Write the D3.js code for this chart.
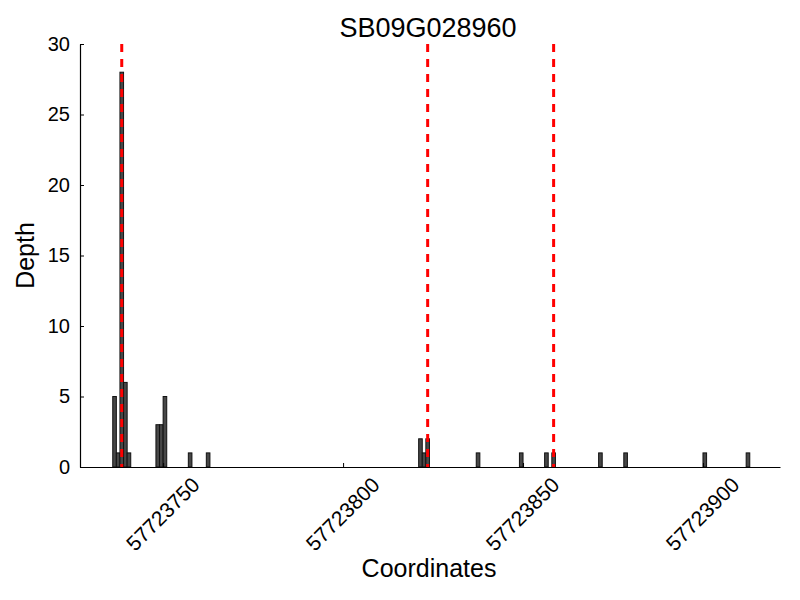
<!DOCTYPE html>
<html>
<head>
<meta charset="utf-8">
<script src="https://cdn.jsdelivr.net/npm/d3@7"></script>
<style>
  body { margin: 0; background: #fff; }
  svg { display: block; font-family: "Liberation Sans", Arial, Helvetica, sans-serif; }
</style>
</head>
<body>
<svg id="chart" width="800" height="600"></svg>
<script>
// ---- data ----
const title = "SB09G028960";
const xLabel = "Coordinates";
const yLabel = "Depth";
const positions = [57723736, 57723737, 57723738, 57723739, 57723740, 57723748, 57723749, 57723750,
                   57723757, 57723762, 57723821, 57723822, 57723823, 57723837, 57723849, 57723856,
                   57723858, 57723871, 57723878, 57723900, 57723912];
const depths = [5, 1, 28, 6, 1, 3, 3, 5, 1, 1, 2, 1, 2, 1, 1, 1, 1, 1, 1, 1, 1];
const markers = [57723738.5, 57723823.5, 57723858.5];
const xTicks = [57723750, 57723800, 57723850, 57723900];
const yTicks = [0, 5, 10, 15, 20, 25, 30];
const xDomain = [57723726.9, 57723921.4];
const yDomain = [0, 30];

// ---- layout ----
const plotL = 80, plotR = 780, plotT = 44, plotB = 467;
const svg = d3.select("#chart");

const x = d3.scaleLinear().domain(xDomain).range([plotL, plotR]);
const y = d3.scaleLinear().domain(yDomain).range([plotB, plotT]);

// bars
svg.append("g").selectAll("rect")
  .data(positions.map((p, i) => ({p, d: depths[i]})))
  .join("rect")
  .attr("x", d => x(d.p))
  .attr("width", d => x(d.p + 1) - x(d.p))
  .attr("y", d => y(d.d))
  .attr("height", d => y(0) - y(d.d))
  .attr("fill", "#474747")
  .attr("stroke", "#111111")
  .attr("stroke-width", 1);

// red dashed markers
svg.append("g").selectAll("line")
  .data(markers)
  .join("line")
  .attr("x1", d => x(d)).attr("x2", d => x(d))
  .attr("y1", plotT).attr("y2", plotB)
  .attr("stroke", "#ff0000")
  .attr("stroke-width", 3)
  .attr("stroke-dasharray", "8,7");

// x axis
const gx = svg.append("g")
  .attr("transform", `translate(0,${plotB})`)
  .call(d3.axisBottom(x).tickValues(xTicks).tickFormat(d3.format("d"))
        .tickSizeInner(-4).tickSizeOuter(0));
gx.select(".domain").attr("stroke", "#000").attr("stroke-width", 1.2);
gx.selectAll(".tick line").attr("stroke", "#000");
gx.selectAll(".tick text")
  .attr("y", 0).attr("dy", null)
  .attr("text-anchor", "middle")
  .attr("dominant-baseline", "central")
  .attr("transform", "translate(-1,47) rotate(-45)")
  .attr("font-size", 21)
  .attr("font-family", "Liberation Sans, Arial, sans-serif")
  .attr("fill", "#000");

// y axis
const gy = svg.append("g")
  .attr("transform", `translate(${plotL},0)`)
  .call(d3.axisLeft(y).tickValues(yTicks).tickSizeInner(-4).tickSizeOuter(0).tickPadding(10));
gy.select(".domain").attr("stroke", "#000").attr("stroke-width", 1.2);
gy.selectAll(".tick line").attr("stroke", "#000");
gy.selectAll(".tick text")
  .attr("font-size", 20)
  .attr("font-family", "Liberation Sans, Arial, sans-serif")
  .attr("fill", "#000");

// title and labels
svg.append("text")
  .attr("x", (plotL + plotR) / 2 - 2).attr("y", 37)
  .attr("text-anchor", "middle")
  .attr("font-size", 27)
  .text(title);

svg.append("text")
  .attr("x", (plotL + plotR) / 2 - 1).attr("y", 577)
  .attr("text-anchor", "middle")
  .attr("font-size", 25)
  .text(xLabel);

svg.append("text")
  .attr("transform", `translate(34,${(plotT + plotB) / 2}) rotate(-90)`)
  .attr("text-anchor", "middle")
  .attr("font-size", 25)
  .text(yLabel);
</script>
</body>
</html>
